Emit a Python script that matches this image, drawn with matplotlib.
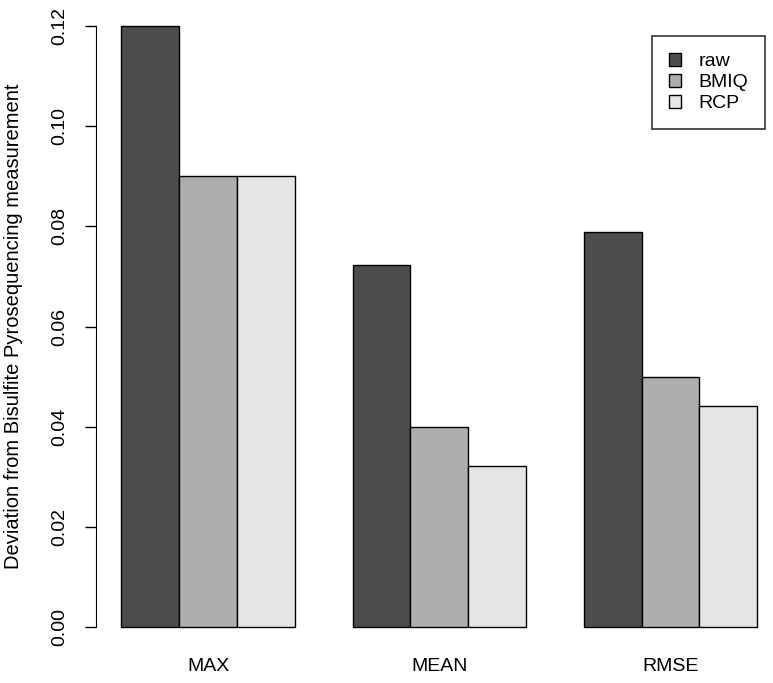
import numpy as np
import matplotlib.pyplot as plt
from matplotlib.patches import Patch

plt.rcParams['font.family'] = ['Liberation Sans', 'DejaVu Sans']

# data
groups = ['MAX', 'MEAN', 'RMSE']
methods = ['raw', 'BMIQ', 'RCP']
raw = [0.120, 0.0723, 0.0789]
bmiq = [0.090, 0.040, 0.050]
rcp = [0.090, 0.0321, 0.0441]
colours = ['#4D4D4D', '#AEAEAE', '#E6E6E6']

W, H = 773, 683
fig = plt.figure(figsize=(W / 100, H / 100), dpi=100)
# axes box in pixels (R barplot layout)
left, right, top, bottom = 96, 773, 2, 651
ax = fig.add_axes([left / W, 1 - bottom / H, (right - left) / W, (bottom - top) / H])

# R style beside=TRUE positions: bar width 1, gap 1 between groups
series = [raw, bmiq, rcp]
for j, (vals, col) in enumerate(zip(series, colours)):
    x = [1 + 4 * i + j + 0.5 for i in range(len(groups))]
    ax.bar(x, vals, width=1, color=col, edgecolor='black', linewidth=1.0)

unit = 57.8
ax.set_xlim(0.56, 0.56 + (right - left) / unit)
ax.set_ylim(-0.0048, 0.1248)

centers = [1 + 4 * i + 1.5 for i in range(len(groups))]
ax.set_xticks(centers)
ax.set_xticklabels(groups, fontsize=14)
ax.tick_params(axis='x', length=0, pad=5)

yt = np.arange(0, 0.121, 0.02)
ax.set_yticks(yt)
ax.set_yticklabels(['%.2f' % v for v in yt], fontsize=14)
ax.tick_params(axis='y', length=8, width=1, pad=12, labelrotation=90)
for lab in ax.get_yticklabels():
    lab.set_va('center')

for s in ['top', 'right', 'bottom']:
    ax.spines[s].set_visible(False)
ax.spines['left'].set_bounds(0, 0.12)

ax.set_ylabel('Deviation from Bisulfite Pyrosequencing measurement', fontsize=14.5, labelpad=20)

handles = [Patch(facecolor=c, edgecolor='black', label=m) for c, m in zip(colours, methods)]
leg = fig.legend(handles=handles, loc='upper right', bbox_to_anchor=(765 / W, 1 - 36 / H),
                 fontsize=14, frameon=True, fancybox=False, edgecolor='black',
                 handlelength=0.65, handleheight=0.65, handletextpad=0.9,
                 borderpad=0.85, labelspacing=0.2, borderaxespad=0)
leg.get_frame().set_linewidth(1.2)

fig.savefig('out.png', dpi=100)
